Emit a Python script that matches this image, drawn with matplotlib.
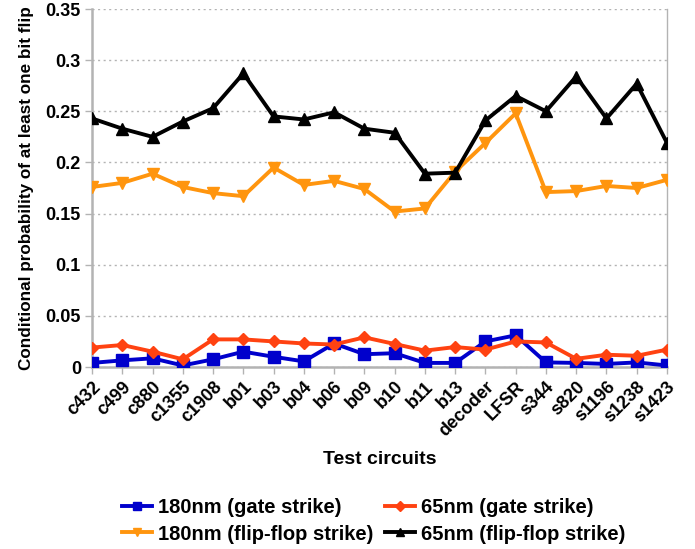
import matplotlib
matplotlib.use("Agg")
import matplotlib.pyplot as plt

plt.rcParams['font.family'] = ['Liberation Sans', 'DejaVu Sans']

circuits = ["c432", "c499", "c880", "c1355", "c1908", "b01", "b03", "b04", "b06", "b09",
            "b10", "b11", "b13", "decoder", "LFSR", "s344", "s820", "s1196", "s1238", "s1423"]

gate_180 = [0.004, 0.0065, 0.0085, 0.0015, 0.0075, 0.015, 0.010, 0.0055, 0.023, 0.0125,
            0.0135, 0.004, 0.004, 0.025, 0.031, 0.0045, 0.004, 0.003, 0.0045, 0.0015]
gate_65 = [0.019, 0.0215, 0.015, 0.0075, 0.027, 0.027, 0.025, 0.023, 0.022, 0.029,
           0.0225, 0.016, 0.0195, 0.017, 0.025, 0.024, 0.008, 0.012, 0.011, 0.017]
ff_180 = [0.176, 0.180, 0.189, 0.176, 0.170, 0.167, 0.195, 0.178, 0.182, 0.174,
          0.152, 0.155, 0.191, 0.219, 0.248, 0.171, 0.172, 0.177, 0.175, 0.183]
ff_65 = [0.243, 0.233, 0.225, 0.240, 0.253, 0.287, 0.245, 0.242, 0.249, 0.233,
         0.229, 0.189, 0.190, 0.241, 0.265, 0.250, 0.284, 0.243, 0.277, 0.219]

yticks = [0, 0.05, 0.1, 0.15, 0.2, 0.25, 0.3, 0.35]
ytick_labels = ["0", "0.05", "0.1", "0.15", "0.2", "0.25", "0.3", "0.35"]

fig = plt.figure(figsize=(6.95, 5.49), dpi=100)
ax = fig.add_axes([0.1324, 0.3315, 0.8273, 0.6521])

x = list(range(len(circuits)))
l1, = ax.plot(x, gate_180, color="#0000CC", lw=2.8, marker="s", ms=8, label="180nm (gate strike)", zorder=3)
l2, = ax.plot(x, gate_65, color="#FF4211", lw=2.8, marker="D", ms=6, label="65nm (gate strike)", zorder=3)
l3, = ax.plot(x, ff_180, color="#FF950E", lw=2.8, marker="v", ms=8, label="180nm (flip-flop strike)", zorder=3)
l4, = ax.plot(x, ff_65, color="#000000", lw=2.8, marker="^", ms=8, label="65nm (flip-flop strike)", zorder=3)

ax.set_xlim(0, len(circuits) - 1)
ax.set_ylim(0, 0.35)
ax.set_xticks(x)
ax.set_xticklabels(circuits, rotation=45, ha="right", rotation_mode="anchor",
                   fontsize=13, fontweight="bold")
ax.set_yticks(yticks)
ax.set_yticklabels(ytick_labels, fontsize=13, fontweight="bold")
ax.tick_params(axis="both", direction="out", length=5, color="#b3b3b3", width=1)
ax.tick_params(axis="x", pad=3)
ax.tick_params(axis="y", pad=3)

ax.yaxis.grid(True, linestyle=(0, (1.5, 2.5)), color="#b3b3b3", lw=1)
ax.set_axisbelow(True)

for s in ["left", "bottom"]:
    ax.spines[s].set_color("#b3b3b3")
    ax.spines[s].set_linewidth(1.8)
ax.spines["right"].set_color("#b3b3b3")
ax.spines["right"].set_linewidth(1)
ax.spines["top"].set_visible(False)

ax.set_ylabel("Conditional probability of at least one bit flip", fontsize=12.3, fontweight="bold", labelpad=8)
ax.set_xlabel("Test circuits", fontsize=14, fontweight="bold", labelpad=8)

fig.legend([l1, l3, l2, l4],
           ["180nm (gate strike)", "180nm (flip-flop strike)", "65nm (gate strike)", "65nm (flip-flop strike)"],
           loc="lower center", bbox_to_anchor=(0.538, -0.023), ncol=2, frameon=False,
           prop={"size": 14.5, "weight": "bold"}, handlelength=1.5, handletextpad=0.3,
           columnspacing=0.55, labelspacing=0.35, markerscale=0.8)

fig.savefig("out.png", dpi=100)
